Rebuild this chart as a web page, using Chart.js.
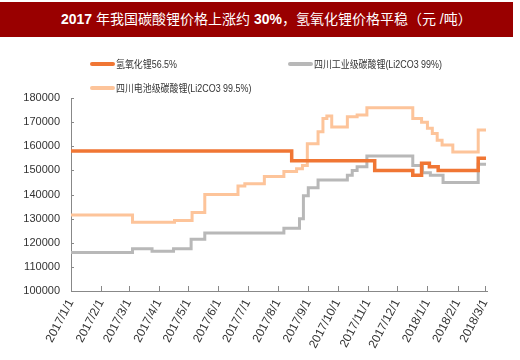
<!DOCTYPE html>
<html>
<head>
<meta charset="utf-8">
<script src="https://cdn.jsdelivr.net/npm/chart.js@4.4.1/dist/chart.umd.min.js"></script>
<style>
  body { margin: 0; background: #fff; }
  #wrap { position: relative; width: 520px; height: 360px; overflow: hidden;
          font-family: "Liberation Sans", "Noto Sans CJK SC", sans-serif; }
  #title { position: absolute; left: 0; top: 2px; width: 513px; height: 35px;
           background: #990000; color: #fff; font-size: 14px; line-height: 35px;
           padding-left: 61px; box-sizing: border-box; white-space: nowrap; }
  #title b { font-family: "Liberation Sans", sans-serif; }
  canvas { position: absolute; left: 0; top: 0; }
  .lg { position: absolute; height: 14px; font-size: 10.5px; line-height: 14px; color: #333;
        white-space: nowrap; font-family: "Liberation Sans", "Noto Sans CJK SC", sans-serif; }
  .lg i { display: inline-block; width: 25px; height: 4px; border-radius: 2px;
          vertical-align: middle; margin-right: 1px; position: relative; top: -1px; }
  .lg span { display: inline-block; transform: scaleX(0.85); transform-origin: left center; }
</style>
</head>
<body>
<div id="wrap">
  <canvas id="c" width="520" height="360"></canvas>
  <div id="title"><b>2017</b> 年我国碳酸锂价格上涨约 <b>30%</b>，氢氧化锂价格平稳（元 /吨）</div>
</div>
<script>
// x = days since 2017/1/1
const tickDays = [0, 31, 59, 90, 120, 151, 181, 212, 243, 273, 304, 334, 365, 396, 424];
const tickLabels = ['2017/1/1', '2017/2/1', '2017/3/1', '2017/4/1', '2017/5/1', '2017/6/1', '2017/7/1',
  '2017/8/1', '2017/9/1', '2017/10/1', '2017/11/1', '2017/12/1', '2018/1/1', '2018/2/1', '2018/3/1'];

const seriesNames = ['氢氧化锂56.5%', '四川工业级碳酸锂(Li2CO3 99%)', '四川电池级碳酸锂(Li2CO3 99.5%)'];
const seriesColors = ['#F07634', '#B8B8B8', '#FDC49A'];

// price change points (day, new price)
const lohDays = [0, 226, 311, 350, 359, 367, 376, 417, 425];
const lohPrices = [158000, 154000, 150000, 148000, 153000, 151500, 150000, 155000, 155000];

const indDays = [0, 63, 83, 105, 123, 137, 218, 234, 238, 243, 253, 283, 288, 293, 303, 350, 360, 368, 381, 417, 425];
const indPrices = [116000, 117500, 116500, 117500, 121500, 124000, 126000, 130000, 139500, 142800, 146000,
  148000, 150000, 151500, 156000, 152000, 149000, 148000, 145000, 152500, 152500];

const batDays = [0, 63, 106, 124, 137, 171, 178, 198, 218, 231, 237, 242, 253, 258, 262, 267, 283, 293, 303,
  350, 359, 365, 370, 375, 380, 391, 417, 425];
const batPrices = [131500, 128500, 129200, 132500, 140000, 143500, 144500, 147500, 149500, 150700, 152000,
  161000, 166000, 171500, 172500, 168000, 172200, 173000, 176000, 171500, 170000, 167500, 165300, 162500,
  160500, 157600, 166700, 166700];

const pts = (xs, ys) => xs.map((d, i) => ({ x: d, y: ys[i] }));

// legend
const legendPos = [[90, 57], [288, 57], [90, 81]];
seriesNames.forEach((name, i) => {
  const el = document.createElement('div');
  el.className = 'lg';
  el.style.left = legendPos[i][0] + 'px';
  el.style.top = legendPos[i][1] + 'px';
  el.innerHTML = '<i style="background:' + seriesColors[i] + '"></i><span>' + name + '</span>';
  document.getElementById('wrap').appendChild(el);
});

const innerTicks = {
  id: 'innerTicks',
  afterDraw(chart) {
    const { ctx, scales: { x, y } } = chart;
    ctx.save();
    ctx.strokeStyle = '#888';
    ctx.lineWidth = 1;
    ctx.beginPath();
    x.ticks.forEach(t => {
      const px = Math.round(x.getPixelForValue(t.value)) + 0.5;
      ctx.moveTo(px, x.top);
      ctx.lineTo(px, x.top - 5);
    });
    y.ticks.forEach(t => {
      const py = Math.round(y.getPixelForValue(t.value)) + 0.5;
      ctx.moveTo(y.right, py);
      ctx.lineTo(y.right + 3, py);
    });
    ctx.stroke();
    ctx.restore();
  }
};

new Chart(document.getElementById('c'), {
  type: 'line',
  data: {
    datasets: [
      { label: seriesNames[0], data: pts(lohDays, lohPrices), borderColor: seriesColors[0], borderWidth: 3.5 },
      { label: seriesNames[1], data: pts(indDays, indPrices), borderColor: seriesColors[1], borderWidth: 3 },
      { label: seriesNames[2], data: pts(batDays, batPrices), borderColor: seriesColors[2], borderWidth: 3 }
    ]
  },
  options: {
    responsive: false,
    animation: false,
    devicePixelRatio: 1,
    layout: { padding: { top: 98, right: 33, left: 0, bottom: 0 } },
    elements: {
      line: { stepped: true, fill: false, borderJoinStyle: 'miter' },
      point: { radius: 0 }
    },
    plugins: { legend: { display: false }, tooltip: { enabled: false } },
    scales: {
      x: {
        type: 'linear', min: 0, max: 426,
        afterBuildTicks: s => { s.ticks = tickDays.map(v => ({ value: v })); },
        afterFit: s => { s.height = 69; },
        grid: { drawOnChartArea: false, drawTicks: false },
        border: { color: '#888', width: 1 },
        ticks: {
          autoSkip: false, minRotation: 62, maxRotation: 62, padding: 6,
          color: '#333', font: { family: 'Liberation Sans', size: 12 },
          callback: v => tickLabels[tickDays.indexOf(v)]
        }
      },
      y: {
        min: 100000, max: 180000,
        afterFit: s => { s.width = 71; },
        grid: { drawOnChartArea: false, drawTicks: false },
        border: { color: '#888', width: 1 },
        ticks: {
          stepSize: 10000, padding: 11,
          color: '#333', font: { family: 'Liberation Sans', size: 11 },
          callback: v => String(v)
        }
      }
    }
  },
  plugins: [innerTicks]
});
</script>
</body>
</html>
